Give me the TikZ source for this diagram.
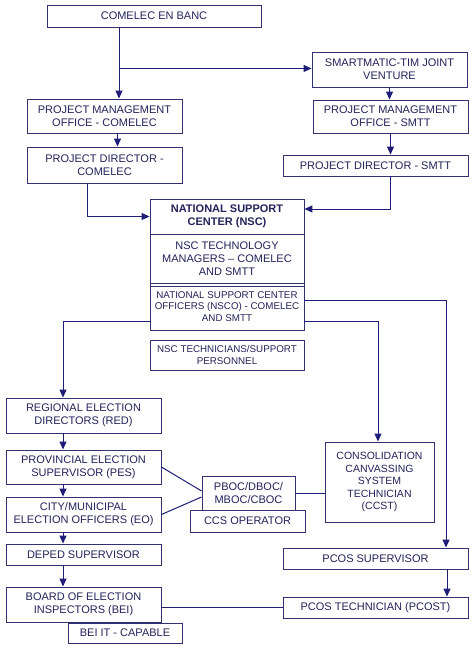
\documentclass[tikz,border=0pt]{standalone}
\usepackage{fontspec}
\setmainfont{Liberation Sans}
\usetikzlibrary{positioning,arrows.meta,calc}
\definecolor{boxline}{RGB}{50,50,115}
\definecolor{wire}{RGB}{30,30,120}
\definecolor{txt}{RGB}{35,35,90}
\tikzset{
   unit/.style={draw=boxline, line width=0.9pt, text=txt, align=center,
      inner sep=1pt, font=\fontsize{11}{13}\selectfont},
   small unit/.style={unit, font=\fontsize{9.8}{11.5}\selectfont},
   wd/.style 2 args={minimum width=#1, minimum height=#2},
   link/.style={draw=wire, line width=1pt},
   feed/.style={link, -{Triangle[length=8pt,width=7pt]}}
}
\begin{document}
\begin{tikzpicture}[x=1pt, y=-1pt]
    \useasboundingbox[fill=white] (0,0) rectangle (474,649);
    % Top: Comelec and Smartmatic chains
    \node[unit, wd={214}{22}] (banc) at (154,16) {COMELEC EN BANC};
    \node[unit, wd={155}{35}] (smart) at (389.5,69.5) {SMARTMATIC-TIM JOINT\\VENTURE};
    \node[unit, wd={155}{33}] (pmos) at (390.5,116.5) {PROJECT MANAGEMENT\\OFFICE - SMTT};
    \node[unit, wd={185}{21}] (pds) at (375.5,165.5) {PROJECT DIRECTOR - SMTT};
    \node[unit, wd={155}{34}] (pmoc) at (104.5,116) {PROJECT MANAGEMENT\\OFFICE - COMELEC};
    \node[unit, wd={155}{36}] (pdc) at (104.5,165) {PROJECT DIRECTOR -\\COMELEC};

    % National support center stack
    \node[unit, wd={154}{35}, font=\bfseries\fontsize{11}{13}\selectfont] (nsc) at (227,216.5) {NATIONAL SUPPORT\\CENTER (NSC)};
    \node[unit, wd={154}{49}] (nsctm) at (227,258.5) {NSC TECHNOLOGY\\MANAGERS -- COMELEC\\AND SMTT};
    \node[small unit, wd={154}{47}, text depth=-4pt] (nsco) at (227,306.5) {NATIONAL SUPPORT CENTER\\OFFICERS (NSCO) - COMELEC\\AND SMTT};
    \draw[boxline, line width=0.9pt] ($(nsco.north west)+(0,4)$) -- ($(nsco.north east)+(0,4)$);
    \node[small unit, wd={154}{30}] (nsct) at (227,355) {NSC TECHNICIANS/SUPPORT\\PERSONNEL};

    % Field offices, left column
    \node[unit, wd={155}{35}] (red) at (83.5,415.5) {REGIONAL ELECTION\\DIRECTORS (RED)};
    \node[unit, wd={155}{34}] (pes) at (83.5,467) {PROVINCIAL ELECTION\\SUPERVISOR (PES)};
    \node[unit, wd={155}{35}] (eo) at (83.5,514.5) {CITY/MUNICIPAL\\ELECTION OFFICERS (EO)};
    \node[unit, wd={155}{21}] (deped) at (83.5,554.5) {DEPED SUPERVISOR};
    \node[unit, wd={155}{35}] (bei) at (83.5,604.5) {BOARD OF ELECTION\\INSPECTORS (BEI)};
    \node[unit, wd={114}{20}] (beiit) at (125,633) {BEI IT - CAPABLE};

    % Canvassing and PCOS, right side
    \node[unit, wd={93}{34}] (pboc) at (248.5,493) {PBOC/DBOC/\\MBOC/CBOC};
    \node[unit, wd={115}{22}] (ccs) at (247.5,521) {CCS OPERATOR};
    \node[unit, wd={109}{80}, font=\fontsize{10.5}{12.5}\selectfont] (ccst) at (379.5,482) {CONSOLIDATION\\CANVASSING\\SYSTEM\\TECHNICIAN\\(CCST)};
    \node[unit, wd={185}{21}] (pcoss) at (375.5,558.5) {PCOS SUPERVISOR};
    \node[unit, wd={185}{21}] (pcost) at (375.5,607.5) {PCOS TECHNICIAN (PCOST)};

    % Connectors
    \coordinate (drop) at ($(banc.south)+(-35,0)$);
    \coordinate (split) at ($(banc.south)+(-35,41)$);
    \draw[feed] (drop) -- (drop |- pmoc.north);
    \draw[feed] (split) -- (split -| smart.west);
    \draw[feed] (smart.south) -- (smart.south |- pmos.north);
    \draw[feed] (pmos.south) -- (pmos.south |- pds.north);
    \draw[feed] ($(pmoc.south)+(13,0)$) -- ($(pdc.north)+(13,0)$);
    \draw[feed] ($(pdc.south)+(-17.5,0)$) |- (nsc.west);
    \draw[feed] ($(pds.south)+(15,0)$) |- ($(nsc.east)+(0,-7.5)$);
    \draw[feed] ($(nsco.west)+(0,14.5)$) -| ($(red.north)+(-20.5,0)$);
    \draw[feed] ($(nsco.east)+(0,14.5)$) -| ($(ccst.north)+(-1.5,0)$);
    \draw[feed] ($(nsco.east)+(0,-6.5)$) -| ($(pcoss.north)+(70.5,0)$);
    \draw[feed] ($(red.south)+(-20.5,0)$) -- ($(pes.north)+(-20.5,0)$);
    \draw[feed] ($(pes.south)+(-20.5,0)$) -- ($(eo.north)+(-20.5,0)$);
    \draw[feed] ($(eo.south)+(-20.5,0)$) -- ($(deped.north)+(-20.5,0)$);
    \draw[feed] ($(deped.south)+(-20.5,0)$) -- ($(bei.north)+(-20.5,0)$);
    \draw[feed] ($(pcoss.south)+(71.5,0)$) -- ($(pcost.north)+(71.5,0)$);
    \draw[link] (pes.east) -- ($(pboc.west)+(0,-2)$);
    \draw[link] (eo.east) -- ($(pboc.west)+(0,4)$);
    \draw[link] (pboc.east) -- (pboc.east -| ccst.west);
    \draw[link] (pcost.west) -- (pcost.west -| bei.east);
\end{tikzpicture}
\end{document}
